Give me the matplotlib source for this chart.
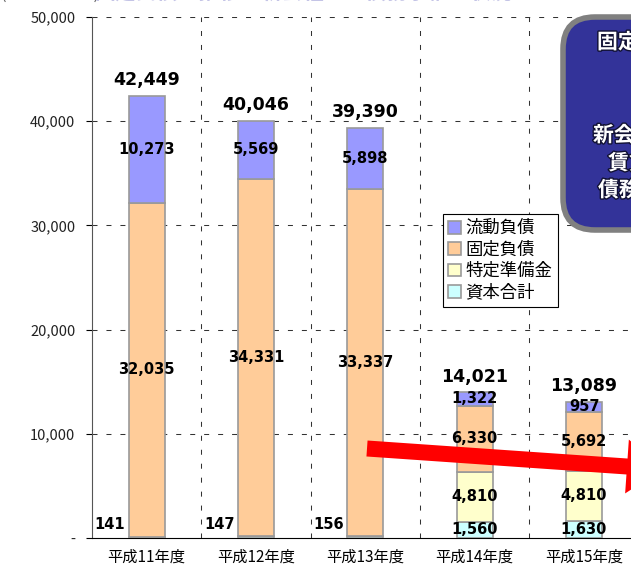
import matplotlib
matplotlib.use("Agg")
import matplotlib.pyplot as plt
import matplotlib.patheffects as pe
from matplotlib.patches import FancyBboxPatch, Polygon
import numpy as np

plt.rcParams['font.family'] = ['Noto Sans CJK JP', 'DejaVu Sans']

years = ['平成11年度', '平成12年度', '平成13年度', '平成14年度', '平成15年度']
capital = [141, 147, 156, 1560, 1630]        # 資本合計
reserve = [0, 0, 0, 4810, 4810]              # 特定準備金
fixed_debt = [32035, 34331, 33337, 6330, 5692]   # 固定負債
current_debt = [10273, 5569, 5898, 1322, 957]    # 流動負債
totals = [42449, 40046, 39390, 14021, 13089]

series = [
    ('資本合計', capital, '#ccffff'),
    ('特定準備金', reserve, '#ffffcc'),
    ('固定負債', fixed_debt, '#ffcc99'),
    ('流動負債', current_debt, '#9999ff'),
]

W, H = 631, 570
fig = plt.figure(figsize=(W / 100, H / 100), dpi=100)
ax = fig.add_axes([92 / W, 1 - 538 / H, 656 / W, 521 / H])

x = np.arange(len(years))
bw = 0.33
bottom = np.zeros(len(years))
handles = {}
for name, vals, col in series:
    vals = np.array(vals, dtype=float)
    bars = ax.bar(x, vals, bw, bottom=bottom, color=col, edgecolor='#999999',
                  linewidth=1.2, zorder=3, label=name)
    handles[name] = bars
    for i, v in enumerate(vals):
        if v == 0:
            continue
        if name == '資本合計' and i < 3:
            ax.text(x[i] - bw / 2 - 0.03, 1250, f'{int(v):,}', ha='right', va='center',
                    fontsize=10.5, fontweight='bold', family='DejaVu Sans', zorder=5)
        else:
            ax.text(x[i], bottom[i] + v / 2, f'{int(v):,}', ha='center', va='center',
                    fontsize=10.5, fontweight='bold', family='DejaVu Sans', zorder=5)
    bottom += vals

for i, t in enumerate(totals):
    ax.annotate(f'{t:,}', (x[i], bottom[i]), xytext=(0, 11), textcoords='offset points',
                ha='center', va='center', fontsize=12.5, fontweight='bold',
                family='DejaVu Sans', zorder=5)

ax.set_xlim(-0.5, 5.5)
ax.set_ylim(0, 50000)
ax.set_xticks(x)
ax.set_xticklabels(years, fontsize=11)
ax.tick_params(axis='x', length=0, pad=8)
ax.set_yticks(np.arange(0, 50001, 10000))
ax.set_yticklabels(['-'] + [f'{v:,}' for v in range(10000, 50001, 10000)], fontsize=10.5,
                   color='#222222')
ax.tick_params(axis='y', direction='out', length=4, pad=8)

dash = (0, (4.8, 8.6))
for yv in range(10000, 50001, 10000):
    ax.axhline(yv, color='#333333', lw=0.75, ls=dash, zorder=1)
for xv in np.arange(0.5, 5.5, 1):
    ax.axvline(xv, color='#333333', lw=0.75, ls=dash, zorder=1)

for s in ['top', 'right']:
    ax.spines[s].set_visible(False)
ax.spines['left'].set_color('#555555')
ax.spines['bottom'].set_color('black')

order = ['流動負債', '固定負債', '特定準備金', '資本合計']
leg = ax.legend([handles[n] for n in order], order, loc='upper left',
                bbox_to_anchor=(443 / W, 1 - 214 / H), bbox_transform=fig.transFigure,
                borderaxespad=0, fancybox=False, framealpha=1, edgecolor='black',
                fontsize=12.5, handlelength=0.75, handleheight=0.75, handletextpad=0.25,
                labelspacing=0.2, borderpad=0.3)
leg.get_frame().set_linewidth(0.8)
leg.set_zorder(6)

# overlay in pixel coordinates for the arrow and the callout
ov = fig.add_axes([0, 0, 1, 1], zorder=10)
ov.set_xlim(0, W)
ov.set_ylim(H, 0)
ov.axis('off')
ov.patch.set_alpha(0)

p0 = np.array([367.0, 448.5])
p1 = np.array([627.0, 466.5])
u = (p1 - p0) / np.linalg.norm(p1 - p0)
n = np.array([-u[1], u[0]])
half, head_half, head_len = 8.0, 27.0, 36.0
tip = p1 + u * head_len
arrow = Polygon([p0 + n * half, p1 + n * half, p1 + n * head_half, tip,
                 p1 - n * head_half, p1 - n * half, p0 - n * half],
                closed=True, facecolor='#ff0000', edgecolor='none')
ov.add_patch(arrow)

box = FancyBboxPatch((563, 17), 340, 213, boxstyle='round,pad=0,rounding_size=32',
                     facecolor='#333399', edgecolor='#808080', linewidth=4)
ov.add_patch(box)

fx = [pe.withStroke(linewidth=2, foreground='#111133')]
for tx, ty, s in [(597, 42, '固定負債が大幅に減少'),
                  (593, 135, '新会社への事業移管で'),
                  (608, 163, '賃貸資産等を譲渡し'),
                  (598, 190, '債務は新会社が引継ぎ')]:
    ov.text(tx, ty, s, color='white', fontsize=15, fontweight='bold', ha='left',
            va='center', path_effects=fx)

# header line, mostly above the top edge
ov.text(0, -1.2, '(単位:百万円)', color='#666666', fontsize=12, ha='left', va='baseline')
ov.text(95, -1.2, '固定負債の推移と新会社への債務承継の状況について', color='#c4c4e6',
        fontsize=15, ha='left', va='baseline', fontweight='bold')

fig.savefig('out.png', dpi=100)
